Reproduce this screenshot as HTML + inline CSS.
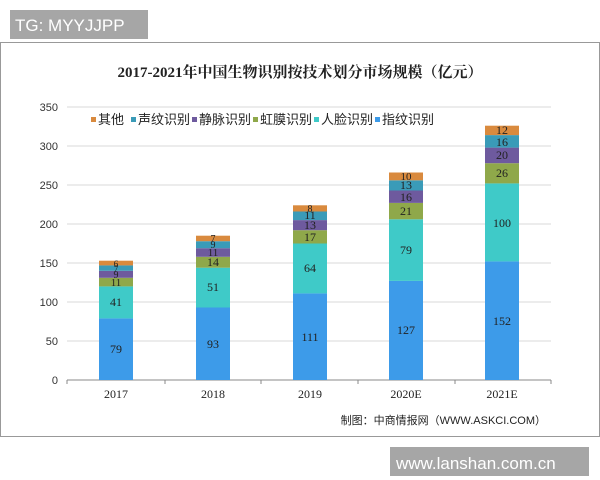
<!DOCTYPE html>
<html><head><meta charset="utf-8"><style>
html,body{margin:0;padding:0;background:#fff;width:600px;height:480px;overflow:hidden}
</style></head><body>
<svg width="600" height="480" xmlns="http://www.w3.org/2000/svg" font-family="'Liberation Serif','Noto Serif CJK SC',serif">
<rect x="0" y="0" width="600" height="480" fill="#fff"/>
<rect x="0.5" y="42.5" width="599" height="394" fill="#fff" stroke="#999" stroke-width="1"/>
<rect x="10" y="10" width="138" height="29" fill="#a6a6a6"/>
<text x="15" y="31" font-family="'Liberation Sans',sans-serif" font-size="17" fill="#fff">TG: MYYJJPP</text>
<text x="300" y="77" text-anchor="middle" font-size="15" font-weight="bold" fill="#222">2017-2021年中国生物识别按技术划分市场规模（亿元）</text>
<g stroke="#d9d9d9" stroke-width="1">
<line x1="67" y1="107" x2="551" y2="107"/>
<line x1="67" y1="146" x2="551" y2="146"/>
<line x1="67" y1="185" x2="551" y2="185"/>
<line x1="67" y1="224" x2="551" y2="224"/>
<line x1="67" y1="263" x2="551" y2="263"/>
<line x1="67" y1="302" x2="551" y2="302"/>
<line x1="67" y1="341" x2="551" y2="341"/>
</g>
<line x1="67" y1="380" x2="551" y2="380" stroke="#888"/>
<g stroke="#888"><line x1="67" y1="380" x2="67" y2="384"/><line x1="165" y1="380" x2="165" y2="384"/><line x1="261" y1="380" x2="261" y2="384"/><line x1="358" y1="380" x2="358" y2="384"/><line x1="455" y1="380" x2="455" y2="384"/><line x1="551" y1="380" x2="551" y2="384"/></g>
<g font-family="'Liberation Sans',sans-serif" font-size="11" fill="#333" text-anchor="end">
<text x="58" y="111">350</text><text x="58" y="150">300</text><text x="58" y="189">250</text><text x="58" y="228">200</text><text x="58" y="267">150</text><text x="58" y="306">100</text><text x="58" y="345">50</text><text x="58" y="384">0</text>
</g>
<g font-size="12" fill="#222" text-anchor="middle">
<text x="116" y="398">2017</text><text x="213" y="398">2018</text><text x="310" y="398">2019</text><text x="406" y="398">2020E</text><text x="502" y="398">2021E</text>
</g>
<g font-family="'Liberation Sans','Noto Sans CJK SC',sans-serif" font-size="13" fill="#222">
<rect x="91" y="117" width="5" height="5" fill="#d98a3e"/><text x="98" y="124">其他</text>
<rect x="131" y="117" width="5" height="5" fill="#3a9bb8"/><text x="138" y="124">声纹识别</text>
<rect x="192" y="117" width="5" height="5" fill="#6e5a9e"/><text x="199" y="124">静脉识别</text>
<rect x="253" y="117" width="5" height="5" fill="#8fa84a"/><text x="260" y="124">虹膜识别</text>
<rect x="314" y="117" width="5" height="5" fill="#3fcac8"/><text x="321" y="124">人脸识别</text>
<rect x="375" y="117" width="5" height="5" fill="#3d9be9"/><text x="382" y="124">指纹识别</text>
</g>
<!-- bars -->
<g>
<rect x="99" y="318.4" width="34" height="61.6" fill="#3d9be9"/>
<rect x="99" y="286.4" width="34" height="32" fill="#3fcac8"/>
<rect x="99" y="277.8" width="34" height="8.6" fill="#8fa84a"/>
<rect x="99" y="270.8" width="34" height="7" fill="#6e5a9e"/>
<rect x="99" y="265.3" width="34" height="5.5" fill="#3a9bb8"/>
<rect x="99" y="260.7" width="34" height="4.7" fill="#d98a3e"/>

<rect x="196" y="307.5" width="34" height="72.5" fill="#3d9be9"/>
<rect x="196" y="267.7" width="34" height="39.8" fill="#3fcac8"/>
<rect x="196" y="256.8" width="34" height="10.9" fill="#8fa84a"/>
<rect x="196" y="248.2" width="34" height="8.6" fill="#6e5a9e"/>
<rect x="196" y="241.2" width="34" height="7" fill="#3a9bb8"/>
<rect x="196" y="235.7" width="34" height="5.5" fill="#d98a3e"/>

<rect x="293" y="293.4" width="34" height="86.6" fill="#3d9be9"/>
<rect x="293" y="243.5" width="34" height="49.9" fill="#3fcac8"/>
<rect x="293" y="230.2" width="34" height="13.3" fill="#8fa84a"/>
<rect x="293" y="220.1" width="34" height="10.1" fill="#6e5a9e"/>
<rect x="293" y="211.5" width="34" height="8.6" fill="#3a9bb8"/>
<rect x="293" y="205.3" width="34" height="6.2" fill="#d98a3e"/>

<rect x="389" y="280.9" width="34" height="99.1" fill="#3d9be9"/>
<rect x="389" y="219.3" width="34" height="61.6" fill="#3fcac8"/>
<rect x="389" y="202.9" width="34" height="16.4" fill="#8fa84a"/>
<rect x="389" y="190.5" width="34" height="12.4" fill="#6e5a9e"/>
<rect x="389" y="180.3" width="34" height="10.2" fill="#3a9bb8"/>
<rect x="389" y="172.5" width="34" height="7.8" fill="#d98a3e"/>

<rect x="485" y="261.4" width="34" height="118.6" fill="#3d9be9"/>
<rect x="485" y="183.4" width="34" height="78" fill="#3fcac8"/>
<rect x="485" y="163.2" width="34" height="20.2" fill="#8fa84a"/>
<rect x="485" y="147.6" width="34" height="15.6" fill="#6e5a9e"/>
<rect x="485" y="135.1" width="34" height="12.5" fill="#3a9bb8"/>
<rect x="485" y="125.7" width="34" height="9.4" fill="#d98a3e"/>
</g>
<g font-size="12" fill="#222" text-anchor="middle">
<text x="116" y="353">79</text><text x="116" y="306">41</text><text x="116" y="286" font-size="11">11</text><text x="116" y="278" font-size="10">9</text><text x="116" y="272" font-size="9">7</text><text x="116" y="267" font-size="9">6</text>
<text x="213" y="348">93</text><text x="213" y="291">51</text><text x="213" y="266">14</text><text x="213" y="256" font-size="11">11</text><text x="213" y="248" font-size="10">9</text><text x="213" y="242" font-size="10">7</text>
<text x="310" y="341">111</text><text x="310" y="272">64</text><text x="310" y="241">17</text><text x="310" y="229">13</text><text x="310" y="219">11</text><text x="310" y="212" font-size="10">8</text>
<text x="406" y="334">127</text><text x="406" y="254">79</text><text x="406" y="215">21</text><text x="406" y="201">16</text><text x="406" y="189">13</text><text x="406" y="180" font-size="11">10</text>
<text x="502" y="325">152</text><text x="502" y="227">100</text><text x="502" y="177">26</text><text x="502" y="159">20</text><text x="502" y="146">16</text><text x="502" y="134">12</text>
</g>
<text x="546" y="424" text-anchor="end" font-family="'Liberation Sans','Noto Sans CJK SC',sans-serif" font-size="11" fill="#222">制图：中商情报网（WWW.ASKCI.COM）</text>
<rect x="390" y="447" width="199" height="29" fill="#a6a6a6"/>
<text x="396" y="469" font-family="'Liberation Sans',sans-serif" font-size="17" fill="#fff">www.lanshan.com.cn</text>
</svg>
</body></html>
